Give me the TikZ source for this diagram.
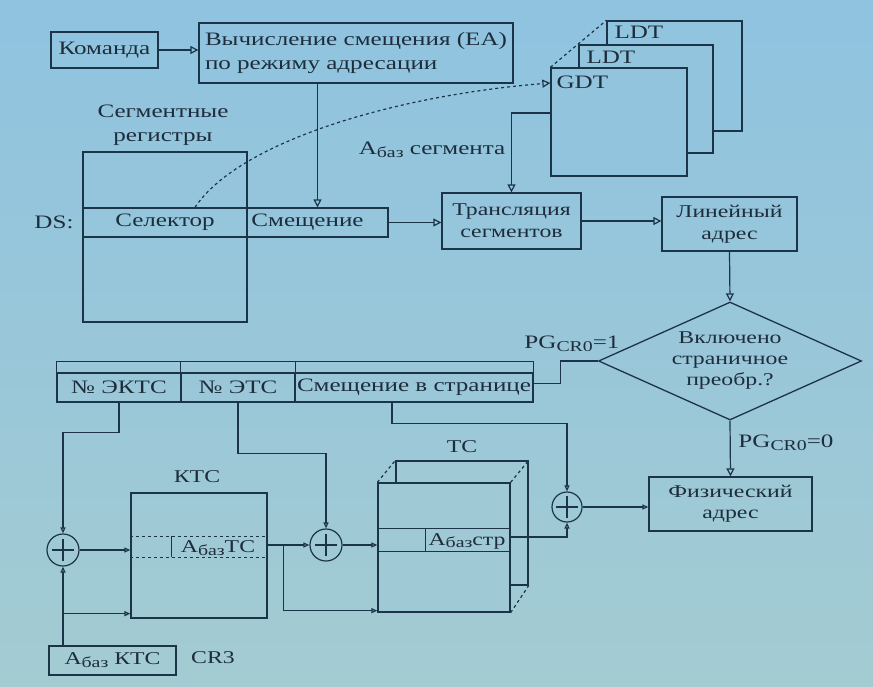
\documentclass[tikz,border=0pt]{standalone}
\usepackage{fontspec}
\setmainfont{Liberation Serif}[FakeStretch=1.32]
\usetikzlibrary{arrows.meta,shapes.geometric}
\definecolor{bgtop}{RGB}{143,195,224}
\definecolor{bgbot}{RGB}{163,203,210}
\definecolor{inkl}{RGB}{28,52,72}
\definecolor{inkt}{RGB}{30,45,60}
\newcommand{\sbz}[1]{\raisebox{-0.35ex}{\fontsize{15}{15}\selectfont #1}}
\begin{document}
\begin{tikzpicture}[x=1pt,y=-1pt,
  box/.style={draw=inkl, line width=1.3pt, inner sep=0pt, text=inkt},
  lbl/.style={text=inkt, inner sep=0pt},
  wire/.style={draw=inkl, line width=1.2pt},
  arr/.style={wire, -{Triangle[open,length=8pt,width=8pt]}},
  arrs/.style={wire, -{Triangle[open,length=6pt,width=5pt]}},
  circ/.style={circle, draw=inkl, line width=1.2pt, minimum size=32pt, inner sep=0pt,
    path picture={\draw[line width=1.2pt, draw=inkl]
      ([xshift=-11pt]path picture bounding box.center) -- ([xshift=11pt]path picture bounding box.center)
      ([yshift=-11pt]path picture bounding box.center) -- ([yshift=11pt]path picture bounding box.center);}},
  font=\fontsize{19}{24}\selectfont]
\shade[top color=bgtop,bottom color=bgbot] (0,0) rectangle (873,686);
\useasboundingbox (0,0) rectangle (873,686);

% top row
\node[box, minimum width=107pt, minimum height=36pt] (cmd) at (104.5,50) {Команда};
\node[box, minimum width=314pt, minimum height=60pt, align=left] (ea) at (356,53) {Вычисление смещения (EA)\\по режиму адресации};

% descriptor tables
\node[box, fill=bgtop!88!bgbot, minimum width=135pt, minimum height=110pt] (ldtb) at (674.5,76) {};
\node[box, fill=bgtop!86!bgbot, minimum width=134pt, minimum height=108pt] (ldtm) at (646,99) {};
\node[box, fill=bgtop!83!bgbot, minimum width=136pt, minimum height=108pt] (gdt) at (619,122) {};
\node[lbl, anchor=north west] (ldtbl) at ([xshift=8pt,yshift=-6pt]ldtb.north west) {LDT};
\node[lbl, anchor=north west] (ldtml) at ([xshift=8pt,yshift=-7pt]ldtm.north west) {LDT};
\node[lbl, anchor=north west] (gdtl) at ([xshift=6pt,yshift=-8pt]gdt.north west) {GDT};
\draw[wire, dashed] (gdt.north west) -- (ldtb.north west);

% segment registers
\node[lbl, align=center] (segl) at (163,125) {Сегментные\\регистры};
\node[box, minimum width=164pt, minimum height=170pt] (seg) at (165,237) {};
\node[box, minimum width=164pt, minimum height=29pt] (sel) at (165,222.5) {Селектор};
\node[box, minimum width=141pt, minimum height=29pt] (off) at (317.5,222.5) {\hspace*{-20pt}Смещение};
\node[lbl] (ds) at (54,222) {DS:};

\node[box, minimum width=139pt, minimum height=56pt, align=center, font=\fontsize{18}{22}\selectfont] (trans) at (511.5,221) {Трансляция\\сегментов};
\node[box, minimum width=135pt, minimum height=54pt, align=center, font=\fontsize{18}{22}\selectfont] (lin) at (729.5,224) {Линейный\\адрес};
\node[lbl] (abs) at (432,150) {А\sbz{баз} сегмента};

% decision
\node[draw=inkl, line width=1.3pt, diamond, aspect=2.2, inner sep=0pt, minimum width=263pt, minimum height=118pt, align=center, text=inkt, font=\fontsize{18}{21}\selectfont] (dia) at (730,361) {Включено\\страничное\\преобр.?};
\node[lbl] (pg1) at (572,344) {PG\sbz{CR0}=1};
\node[lbl] (pg0) at (786,443) {PG\sbz{CR0}=0};
\node[box, minimum width=163pt, minimum height=54pt, align=center, font=\fontsize{18}{21}\selectfont] (phys) at (730.5,504) {Физический\\адрес};

% linear address fields
\node[box, minimum width=124pt, minimum height=29pt] (ekts) at (119,387.5) {№ ЭКТС};
\node[box, minimum width=114pt, minimum height=29pt] (ets) at (238,387.5) {№ ЭТС};
\node[box, minimum width=238pt, minimum height=29pt] (offp) at (414,387.5) {Смещение в странице};
\draw[wire] ([yshift=11pt]ekts.north west) rectangle (offp.north east);
\draw[wire] (ets.north west) -- ++(0,-11) (ets.north east) -- ++(0,-11);

% KTC
\node[box, minimum width=136pt, minimum height=125pt] (ktc) at (199,555.5) {};
\node[lbl, font=\fontsize{18}{21}\selectfont] (ktcl) at (197,477) {КТС};
\draw[wire, dashed] ([yshift=-44pt]ktc.north west) -- ([yshift=-44pt]ktc.north east)
  ([yshift=-65pt]ktc.north west) -- ([yshift=-65pt]ktc.north east);
\draw[wire] ([xshift=41pt,yshift=-44pt]ktc.north west) -- ([xshift=41pt,yshift=-65pt]ktc.north west);
\node[lbl, font=\fontsize{18}{21}\selectfont] (abtc) at (218,548) {А\sbz{баз}ТС};

% TC
\node[box, fill=bgtop!24!bgbot, minimum width=132pt, minimum height=124pt] (tcb) at (462,523) {};
\node[box, fill=bgtop!22!bgbot, minimum width=132pt, minimum height=129pt] (tcf) at (444,547.5) {};
\draw[wire, dashed] (tcf.north west) -- (tcb.north west) (tcf.north east) -- (tcb.north east)
  (tcf.south east) -- (tcb.south east);
\draw[wire] ([yshift=-46pt]tcf.north west) -- ([yshift=-46pt]tcf.north east)
  ([yshift=-69pt]tcf.north west) -- ([yshift=-69pt]tcf.north east)
  ([xshift=48pt,yshift=-46pt]tcf.north west) -- ([xshift=48pt,yshift=-69pt]tcf.north west);
\node[lbl, font=\fontsize{18}{21}\selectfont] (abstr) at (467,541) {А\sbz{баз}стр};
\node[lbl, font=\fontsize{18}{21}\selectfont] (tcl) at (462,447) {ТС};

% adders
\node[circ] (c1) at (63,550) {};
\node[circ] (c2) at (326,545) {};
\node[circ, minimum size=30pt] (c3) at (567,507) {};

% CR3
\node[box, minimum width=127pt, minimum height=29pt, font=\fontsize{18}{21}\selectfont] (cr3) at (112.5,660.5) {А\sbz{баз} КТС};
\node[lbl, font=\fontsize{18}{21}\selectfont] (cr3l) at (213,658) {CR3};

% connectors, top
\draw[arr] (cmd.east) -- (cmd.east -| ea.west);
\draw[arr] (ea.south -| off.north) -- (off.north);
\draw[wire, dashed, -{Triangle[open,length=8pt,width=8pt]}] ([xshift=30pt]sel.north) .. controls (240,140) and (400,95) .. ([yshift=39pt]gdt.west);
\draw[arr] ([yshift=9pt]gdt.west) -| (trans.north);
\draw[arr] (off.east) -- (off.east -| trans.west);
\draw[arr] (trans.east) -- (trans.east -| lin.west);
\draw[arr] (lin.south) -- (dia.north);
\draw[arr] (dia.south) -- (phys.north);
\draw[wire] (dia.west) -- ++(-37,0) |- ([yshift=4pt]offp.east);

% connectors, bottom
\draw[arrs] (ekts.south) -- ++(0,30) -| (c1.north);
\draw[arrs] (ets.south) -- ++(0,51) -| (c2.north);
\draw[arrs] ([xshift=-22pt]offp.south) -- ++(0,21) -| (c3.north);
\draw[arrs] (c1.east) -- (c1.east -| ktc.west);
\draw[arrs] (cr3.north -| c1.south) -- (c1.south);
\draw[arrs] ([yshift=5pt]ktc.south west -| c1.south) -- ([yshift=5pt]ktc.south west);
\draw[arrs] ([yshift=10.5pt]ktc.east) -- (c2.west);
\draw[arrs] ([xshift=16pt,yshift=10.5pt]ktc.east) |- ([yshift=2pt]tcf.south west);
\draw[arrs] (c2.east) -- (c2.east -| tcf.west);
\draw[arrs] ([yshift=10.5pt]tcf.east) -| (c3.south);
\draw[arrs] (c3.east) -- (c3.east -| phys.west);
\end{tikzpicture}
\end{document}
